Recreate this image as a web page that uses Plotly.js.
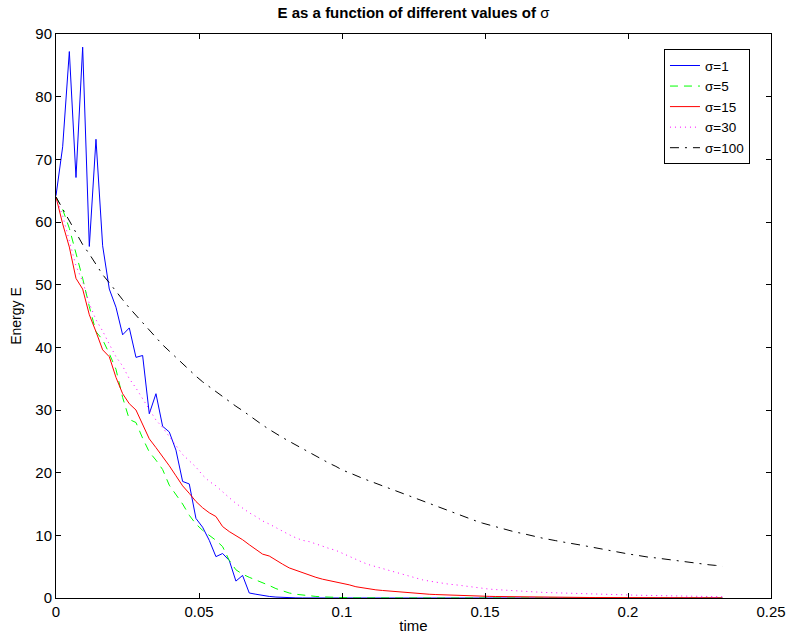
<!DOCTYPE html>
<html>
<head>
<meta charset="utf-8">
<script src="https://cdn.plot.ly/plotly-3.0.1.min.js"></script>
<style>html,body{margin:0;padding:0;background:#fff;}#chart{width:788px;height:641px;}</style>
</head>
<body>
<div id="chart"></div>
<script>
// time step between samples (101 samples, 0 .. 0.233)
const TIME_STEP = 0.00233;
const N_SAMPLES = 101;

const seriesNames = ["σ=1", "σ=5", "σ=15", "σ=30", "σ=100"];

const energySigma1 = [
  64.2, 72, 87.2, 67.1, 87.9, 56.1, 73.2, 56.2, 49.3, 46.4,
  42.0, 43.1, 38.4, 38.7, 29.4, 32.6, 27.4, 26.5, 23.6, 18.6,
  18.2, 12.7, 11.3, 9.2, 6.6, 7.1, 6.0, 2.7, 3.6, 0.8,
  0.6, 0.4, 0.25, 0.15, 0.08, 0.04, 0.02, 0.01, 0, 0,
  0, 0, 0, 0, 0, 0, 0, 0, 0, 0,
  0, 0, 0, 0, 0, 0, 0, 0, 0, 0,
  0, 0, 0, 0, 0, 0, 0, 0, 0, 0,
  0, 0, 0, 0, 0, 0, 0, 0, 0, 0,
  0, 0, 0, 0, 0, 0, 0, 0, 0, 0,
  0, 0, 0, 0, 0, 0, 0, 0, 0, 0,
  0
];

const energySigma5 = [
  64, 62, 59, 55, 51, 46.5, 42.5, 41.2, 39, 36.5,
  32, 28.5, 28, 25.5, 23.3, 22, 20.5, 18, 16.5, 15,
  13.2, 11.8, 10.8, 10, 9.2, 8.2, 6, 4.5, 3.8, 3.3,
  2.9, 2.5, 2.0, 1.5, 1.1, 0.8, 0.6, 0.45, 0.35, 0.25,
  0.18, 0.12, 0.08, 0.05, 0.03, 0.02, 0.01, 0.01, 0, 0,
  0, 0, 0, 0, 0, 0, 0, 0, 0, 0,
  0, 0, 0, 0, 0, 0, 0, 0, 0, 0,
  0, 0, 0, 0, 0, 0, 0, 0, 0, 0,
  0, 0, 0, 0, 0, 0, 0, 0, 0, 0,
  0, 0, 0, 0, 0, 0, 0, 0, 0, 0,
  0
];

const energySigma15 = [
  64, 59.7, 56, 51, 49.3, 45.2, 42.5, 39.6, 38.5, 35.2,
  32.6, 31, 30, 27.8, 25.4, 24, 22.6, 21.1, 19.5, 17.9,
  16.7, 15.4, 14.4, 13.6, 13.0, 11.4, 10.6, 10.0, 9.3, 8.5,
  7.7, 7.0, 6.7, 6.0, 5.4, 4.8, 4.4, 4.1, 3.7, 3.3,
  3.0, 2.8, 2.5, 2.3, 2.1, 1.8, 1.6, 1.45, 1.3, 1.2,
  1.1, 1.0, 0.9, 0.8, 0.75, 0.7, 0.6, 0.55, 0.5, 0.45,
  0.4, 0.35, 0.32, 0.3, 0.28, 0.26, 0.24, 0.22, 0.2, 0.18,
  0.17, 0.16, 0.15, 0.14, 0.13, 0.12, 0.11, 0.1, 0.09, 0.085,
  0.08, 0.075, 0.07, 0.065, 0.06, 0.055, 0.05, 0.045, 0.04, 0.04,
  0.035, 0.03, 0.03, 0.03, 0.025, 0.025, 0.02, 0.02, 0.02, 0.02,
  0.02
];

const energySigma30 = [
  64, 61, 57, 53, 50.5, 47, 44.4, 42.6, 40.5, 38.5,
  37, 35, 33.5, 31.8, 30, 28.4, 27.2, 25.8, 24.4, 22.9,
  21.9, 20.9, 19.6, 18.6, 17.9, 16.9, 16.0, 15.1, 14.3, 13.6,
  13.0, 12.3, 11.8, 11.2, 10.6, 10.1, 9.6, 9.2, 9.0, 8.6,
  8.2, 7.9, 7.6, 7.1, 6.6, 6.1, 5.7, 5.3, 5.0, 4.7,
  4.4, 4.1, 3.8, 3.4, 3.1, 2.9, 2.7, 2.5, 2.35, 2.2,
  2.1, 1.95, 1.8, 1.65, 1.5, 1.42, 1.34, 1.26, 1.18, 1.1,
  1.05, 1.0, 0.95, 0.9, 0.86, 0.82, 0.78, 0.74, 0.71, 0.68,
  0.65, 0.62, 0.59, 0.56, 0.53, 0.51, 0.48, 0.45, 0.43, 0.41,
  0.38, 0.36, 0.33, 0.31, 0.29, 0.27, 0.25, 0.24, 0.22, 0.21,
  0.2
];

const energySigma100 = [
  64, 62.1, 60.2, 58.5, 56.4, 54.9, 53.3, 51.6, 50.3, 48.9,
  47.6, 46.3, 45.1, 43.9, 42.7, 41.6, 40.4, 39.4, 38.4, 37.3,
  36.3, 35.4, 34.5, 33.7, 32.9, 32.2, 31.4, 30.6, 29.9, 29.1,
  28.4, 27.6, 26.9, 26.2, 25.6, 25.0, 24.4, 23.9, 23.3, 22.7,
  22.1, 21.5, 21.0, 20.4, 20.0, 19.5, 19.1, 18.7, 18.3, 17.8,
  17.4, 17.0, 16.6, 16.2, 15.8, 15.4, 15.0, 14.6, 14.2, 13.8,
  13.4, 13.0, 12.7, 12.3, 11.95, 11.65, 11.35, 11.1, 10.8, 10.5,
  10.3, 10.0, 9.8, 9.55, 9.3, 9.15, 8.95, 8.8, 8.6, 8.4,
  8.2, 8.0, 7.75, 7.55, 7.3, 7.15, 7.0, 6.85, 6.65, 6.5,
  6.4, 6.25, 6.1, 6.0, 5.85, 5.7, 5.6, 5.45, 5.3, 5.2,
  5.05
];

const xTicks = [0, 0.05, 0.1, 0.15, 0.2, 0.25];
const yTicks = [0, 10, 20, 30, 40, 50, 60, 70, 80, 90];

const time = [];
for (let i = 0; i < N_SAMPLES; i++) time.push(+(i * TIME_STEP).toFixed(5));

const FONT = "Liberation Sans, Arial, Helvetica, sans-serif";

const styles = [
  {color: "#0000ff", dash: "solid"},
  {color: "#00ff00", dash: "8px,6px"},
  {color: "#ff0000", dash: "solid"},
  {color: "#ff00ff", dash: "1px,4px"},
  {color: "#000000", dash: "9px,6px,2px,6px"}
];
const allSeries = [energySigma1, energySigma5, energySigma15, energySigma30, energySigma100];

const traces = allSeries.map((vals, k) => ({
  x: time,
  y: vals,
  type: "scatter",
  mode: "lines",
  name: seriesNames[k],
  line: {color: styles[k].color, dash: styles[k].dash, width: 1}
}));

const layout = {
  width: 788,
  height: 641,
  paper_bgcolor: "#ffffff",
  plot_bgcolor: "#ffffff",
  margin: {l: 56, r: 17, t: 34, b: 43},
  font: {family: FONT, size: 15, color: "#000"},
  title: {
    text: "<b>E as a function of different values of </b>σ",
    font: {family: FONT, size: 15, color: "#000"},
    x: 0.5, xref: "paper",
    y: 1 - 13 / 641, yref: "container", yanchor: "middle"
  },
  xaxis: {
    range: [0, 0.25],
    tickvals: xTicks,
    ticktext: xTicks.map(String),
    ticks: "inside", ticklen: 5, tickcolor: "#000", tickwidth: 1,
    showline: true, linecolor: "#000", linewidth: 1, mirror: "ticks",
    showgrid: false, zeroline: false,
    tickfont: {family: FONT, size: 15, color: "#000"},
    title: {text: "time", font: {family: FONT, size: 15, color: "#000"}, standoff: 1}
  },
  yaxis: {
    range: [0, 90],
    tickvals: yTicks,
    ticktext: yTicks.map(String),
    ticks: "inside", ticklen: 5, tickcolor: "#000", tickwidth: 1,
    showline: true, linecolor: "#000", linewidth: 1, mirror: "ticks",
    showgrid: false, zeroline: false,
    tickfont: {family: FONT, size: 15, color: "#000"},
    title: {text: "Energy E", font: {family: FONT, size: 14, color: "#000"}, standoff: 10}
  },
  showlegend: true,
  legend: {
    x: 0.9706, xanchor: "right",
    y: 0.973, yanchor: "top",
    bgcolor: "#ffffff",
    bordercolor: "#000", borderwidth: 1,
    font: {family: FONT, size: 13.5, color: "#000"},
    tracegroupgap: 0,
    itemwidth: 30
  }
};

Plotly.newPlot("chart", traces, layout, {displayModeBar: false, staticPlot: true});
</script>
</body>
</html>
